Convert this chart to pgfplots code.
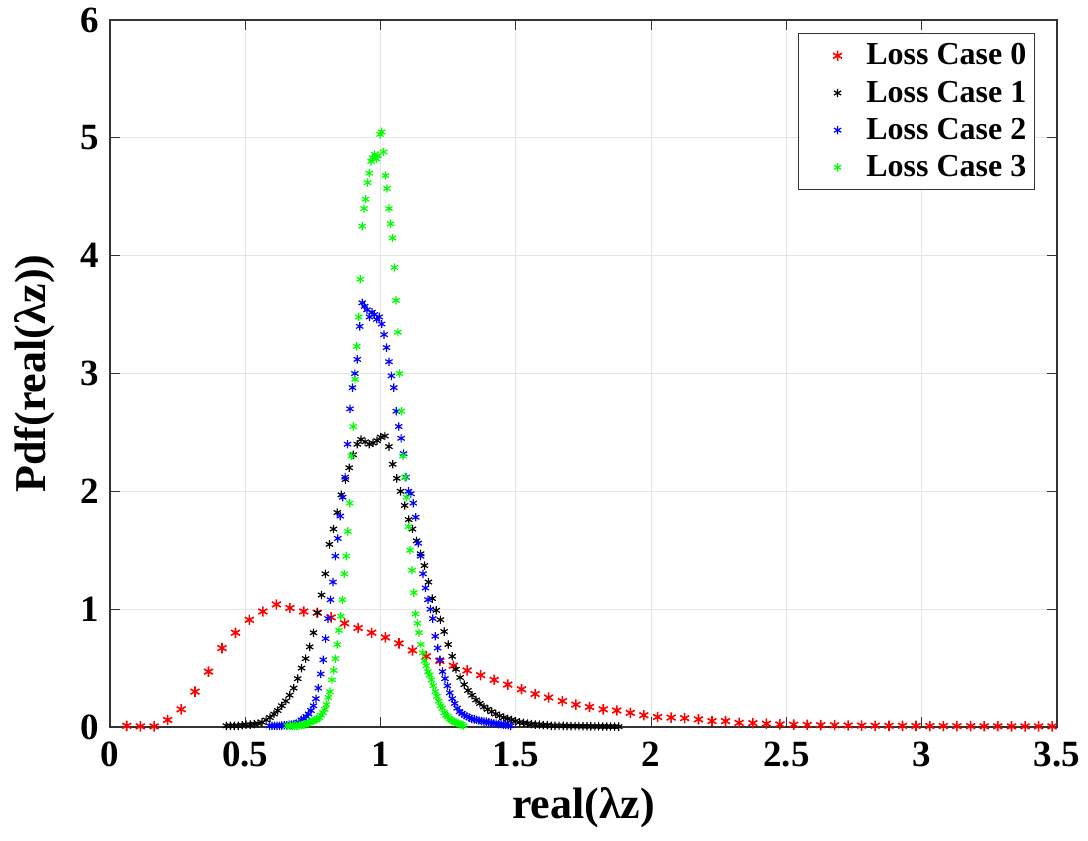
\documentclass[border=0pt]{standalone}
\usepackage{fontspec}
\setmainfont{Liberation Serif}
\usepackage{pgfplots}
\pgfplotsset{compat=1.18}
\begin{document}
\begin{tikzpicture}
\useasboundingbox (-55pt,-57pt) rectangle (489pt,363.5pt);
\begin{axis}[
  scale only axis, width=473.5pt, height=353.5pt,
  xmin=0, xmax=3.5, ymin=0, ymax=6,
  xtick={0,0.5,1,1.5,2,2.5,3,3.5},
  xticklabels={0,0.5,1,1.5,2,2.5,3,3.5},
  ytick={0,1,2,3,4,5,6},
  tick align=inside, major tick length=5pt,
  grid=major, grid style={gray!20, line width=0.5pt},
  axis line style={black!80, line width=0.6pt},
  tick style={black!80, line width=0.6pt},
  ticklabel style={font=\bfseries\fontsize{18.5}{20}\selectfont},
  /pgf/number format/assume math mode=true,
  xticklabel style={yshift=-4pt},
  yticklabel style={xshift=-2pt},
  xlabel={\bfseries real(λz)},
  ylabel={\bfseries Pdf(real(λz))},
  label style={font=\bfseries\fontsize{22}{24}\selectfont},
  xlabel style={at={(axis description cs:0.5,-0.1146)}, anchor=center},
  ylabel style={at={(axis description cs:-0.079,0.5)}, anchor=center},
  legend image code/.code={\path (0pt,0pt) (29pt,0pt); \draw[#1] plot coordinates {(17pt,0pt)};},
  legend style={at={(1,1)}, anchor=north east, xshift=-11pt, yshift=-6.5pt,
    font=\bfseries\fontsize{16}{18}\selectfont, draw=black!80, line width=0.6pt,
    cells={anchor=west}, row sep=2.5pt, inner xsep=2pt, inner ysep=3pt},
]
\addplot[only marks, mark=asterisk, mark size=2.6pt, color=red, line width=0.8pt] coordinates {
(0.062,0.01)(0.112,0.005)(0.163,0.005)(0.213,0.06)(0.263,0.15)(0.314,0.30)(0.364,0.47)(0.414,0.67)(0.464,0.80)(0.515,0.91)(0.565,0.98)(0.615,1.04)(0.665,1.01)(0.716,0.98)(0.766,0.97)(0.817,0.93)(0.867,0.88)(0.917,0.84)(0.967,0.80)(1.018,0.76)(1.068,0.71)(1.118,0.65)(1.169,0.60)(1.219,0.56)(1.269,0.52)(1.320,0.48)(1.370,0.44)(1.420,0.40)(1.470,0.36)(1.521,0.32)(1.571,0.28)(1.621,0.25)(1.672,0.22)(1.722,0.19)(1.772,0.17)(1.823,0.15)(1.873,0.14)(1.923,0.12)(1.973,0.10)(2.024,0.085)(2.074,0.08)(2.124,0.075)(2.175,0.065)(2.225,0.05)(2.275,0.05)(2.325,0.035)(2.376,0.033)(2.426,0.028)(2.476,0.022)(2.527,0.02)(2.577,0.018)(2.627,0.016)(2.678,0.015)(2.728,0.013)(2.778,0.012)(2.828,0.011)(2.879,0.01)(2.929,0.01)(2.979,0.009)(3.030,0.008)(3.080,0.008)(3.130,0.007)(3.181,0.007)(3.231,0.006)(3.281,0.006)(3.332,0.005)(3.382,0.005)(3.432,0.005)(3.482,0.005)
};
\addlegendentry{Loss Case 0}
\addplot[only marks, mark=asterisk, mark size=2.1pt, color=black, line width=0.6pt] coordinates {
(0.430,0.01)(0.445,0.01)(0.459,0.01)(0.474,0.01)(0.489,0.015)(0.503,0.02)(0.518,0.02)(0.533,0.025)(0.547,0.03)(0.562,0.04)(0.577,0.06)(0.591,0.08)(0.606,0.11)(0.620,0.14)(0.635,0.18)(0.650,0.22)(0.664,0.27)(0.679,0.33)(0.694,0.41)(0.708,0.50)(0.723,0.58)(0.738,0.68)(0.752,0.80)(0.767,0.97)(0.782,1.12)(0.796,1.30)(0.811,1.55)(0.826,1.68)(0.840,1.82)(0.855,1.97)(0.870,2.10)(0.884,2.20)(0.899,2.31)(0.914,2.40)(0.928,2.44)(0.943,2.42)(0.958,2.40)(0.972,2.41)(0.987,2.43)(1.001,2.46)(1.016,2.47)(1.031,2.38)(1.045,2.23)(1.060,2.11)(1.074,2.00)(1.089,1.88)(1.104,1.76)(1.118,1.68)(1.133,1.58)(1.148,1.47)(1.162,1.37)(1.177,1.23)(1.191,1.09)(1.206,0.99)(1.221,0.91)(1.235,0.81)(1.250,0.70)(1.265,0.60)(1.279,0.49)(1.294,0.42)(1.309,0.36)(1.323,0.31)(1.338,0.27)(1.353,0.23)(1.367,0.20)(1.382,0.17)(1.396,0.15)(1.411,0.13)(1.426,0.11)(1.440,0.095)(1.455,0.08)(1.470,0.07)(1.484,0.06)(1.499,0.05)(1.514,0.04)(1.528,0.035)(1.543,0.03)(1.558,0.025)(1.572,0.02)(1.587,0.02)(1.601,0.015)(1.616,0.015)(1.631,0.01)(1.645,0.01)(1.660,0.01)(1.675,0.01)(1.689,0.008)(1.704,0.008)(1.719,0.007)(1.733,0.007)(1.748,0.006)(1.763,0.006)(1.777,0.005)(1.792,0.005)(1.806,0.005)(1.821,0.004)(1.836,0.004)(1.850,0.004)(1.865,0.003)(1.880,0.003)
};
\addlegendentry{Loss Case 1}
\addplot[only marks, mark=asterisk, mark size=2.1pt, color=blue, line width=0.6pt] coordinates {
(0.590,0.01)(0.599,0.01)(0.608,0.01)(0.617,0.01)(0.626,0.01)(0.635,0.012)(0.644,0.015)(0.653,0.015)(0.662,0.02)(0.671,0.02)(0.680,0.025)(0.689,0.03)(0.698,0.04)(0.707,0.06)(0.716,0.07)(0.725,0.09)(0.734,0.11)(0.743,0.14)(0.752,0.18)(0.761,0.24)(0.770,0.33)(0.779,0.45)(0.788,0.57)(0.797,0.75)(0.806,0.92)(0.815,1.08)(0.824,1.23)(0.833,1.45)(0.842,1.60)(0.851,1.79)(0.860,1.95)(0.869,2.12)(0.878,2.40)(0.887,2.70)(0.896,2.88)(0.905,3.00)(0.914,3.12)(0.923,3.40)(0.932,3.60)(0.941,3.57)(0.950,3.54)(0.959,3.48)(0.968,3.52)(0.977,3.50)(0.986,3.46)(0.995,3.48)(1.004,3.42)(1.013,3.33)(1.022,3.22)(1.031,3.10)(1.040,2.98)(1.049,2.88)(1.058,2.68)(1.067,2.55)(1.076,2.45)(1.085,2.32)(1.094,2.12)(1.103,2.00)(1.112,1.98)(1.121,1.90)(1.130,1.78)(1.139,1.56)(1.148,1.45)(1.157,1.30)(1.166,1.18)(1.175,1.08)(1.184,1.00)(1.193,0.92)(1.202,0.77)(1.211,0.67)(1.220,0.57)(1.229,0.47)(1.238,0.41)(1.247,0.35)(1.256,0.29)(1.265,0.24)(1.274,0.20)(1.283,0.16)(1.292,0.13)(1.301,0.115)(1.310,0.10)(1.319,0.09)(1.328,0.08)(1.337,0.07)(1.346,0.065)(1.355,0.06)(1.364,0.055)(1.373,0.05)(1.382,0.045)(1.391,0.045)(1.400,0.04)(1.409,0.035)(1.418,0.03)(1.427,0.03)(1.436,0.025)(1.445,0.025)(1.454,0.02)(1.463,0.02)(1.472,0.015)(1.481,0.01)
};
\addlegendentry{Loss Case 2}
\addplot[only marks, mark=asterisk, mark size=2.1pt, color=green, line width=0.6pt] coordinates {
(0.655,0.01)(0.662,0.01)(0.668,0.01)(0.675,0.01)(0.681,0.01)(0.688,0.01)(0.695,0.01)(0.701,0.015)(0.708,0.015)(0.714,0.02)(0.721,0.02)(0.728,0.03)(0.734,0.035)(0.741,0.04)(0.747,0.05)(0.754,0.055)(0.761,0.06)(0.767,0.07)(0.774,0.08)(0.780,0.10)(0.787,0.12)(0.794,0.15)(0.800,0.19)(0.807,0.25)(0.813,0.30)(0.820,0.40)(0.827,0.48)(0.833,0.58)(0.840,0.70)(0.846,0.82)(0.853,0.94)(0.859,1.08)(0.866,1.30)(0.873,1.45)(0.879,1.66)(0.886,1.90)(0.892,2.30)(0.899,2.55)(0.906,2.95)(0.912,3.23)(0.919,3.48)(0.925,3.80)(0.932,4.25)(0.939,4.40)(0.945,4.48)(0.952,4.62)(0.958,4.70)(0.965,4.80)(0.971,4.83)(0.978,4.86)(0.985,4.82)(0.991,4.85)(0.998,5.03)(1.004,5.05)(1.011,4.88)(1.018,4.68)(1.024,4.57)(1.031,4.40)(1.037,4.27)(1.044,4.15)(1.051,3.90)(1.057,3.62)(1.064,3.35)(1.070,3.00)(1.077,2.68)(1.083,2.30)(1.090,2.12)(1.096,1.95)(1.103,1.70)(1.109,1.50)(1.116,1.33)(1.123,1.14)(1.129,0.96)(1.136,0.88)(1.142,0.80)(1.149,0.70)(1.156,0.63)(1.162,0.56)(1.169,0.52)(1.175,0.47)(1.182,0.44)(1.188,0.40)(1.195,0.35)(1.202,0.30)(1.208,0.26)(1.215,0.22)(1.221,0.18)(1.228,0.16)(1.235,0.12)(1.241,0.10)(1.248,0.09)(1.254,0.07)(1.261,0.06)(1.268,0.05)(1.274,0.04)(1.281,0.035)(1.287,0.03)(1.294,0.025)(1.301,0.02)(1.307,0.01)
};
\addlegendentry{Loss Case 3}
\end{axis}
\end{tikzpicture}
\end{document}
